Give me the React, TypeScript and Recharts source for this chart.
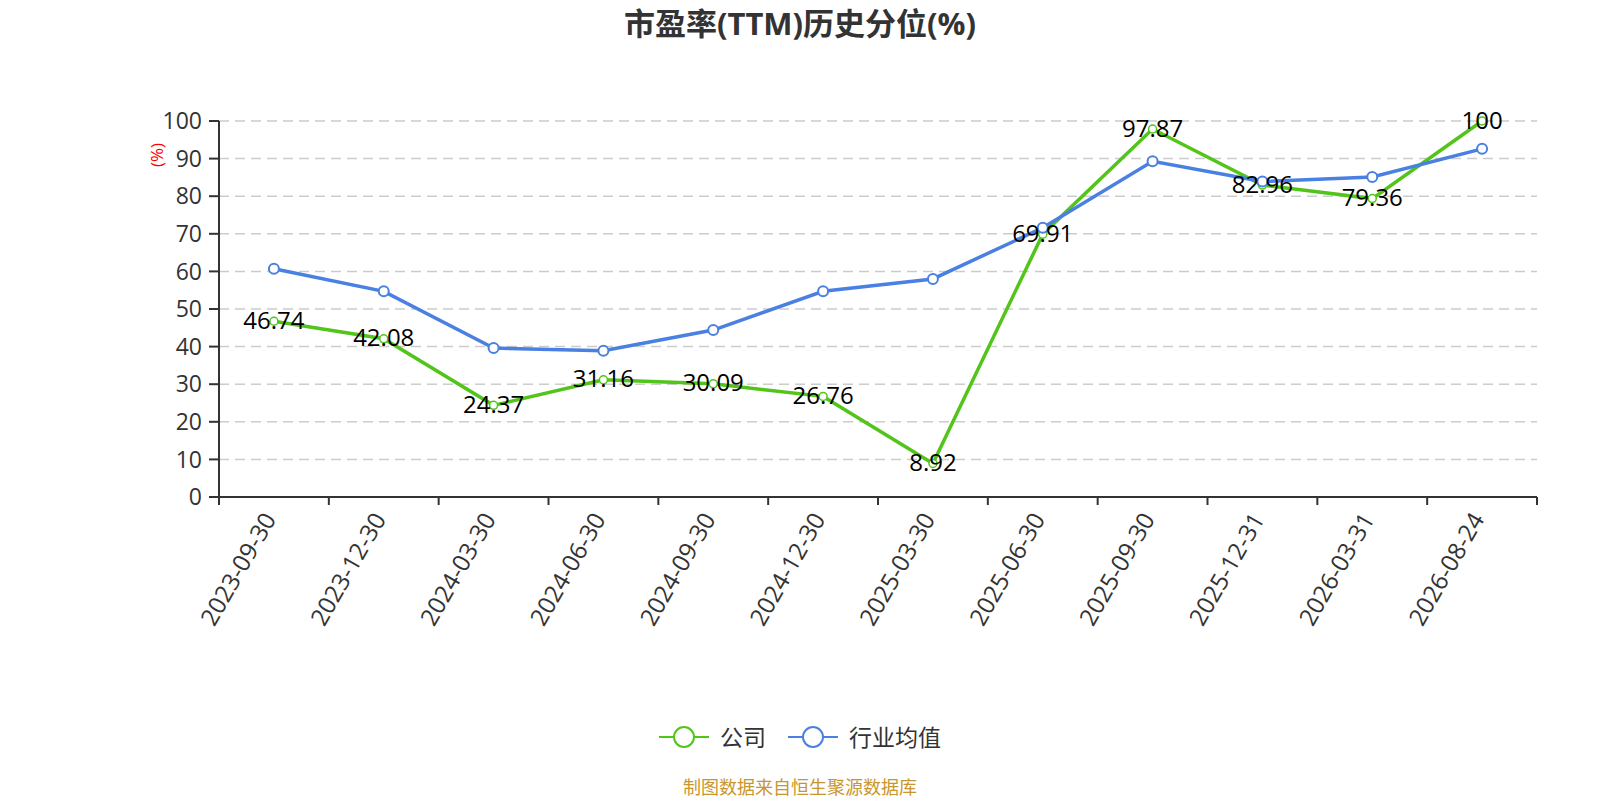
import { CartesianGrid, LabelList, Line, LineChart, XAxis, YAxis } from "recharts";

const dates = [
  "2023-09-30",
  "2023-12-30",
  "2024-03-30",
  "2024-06-30",
  "2024-09-30",
  "2024-12-30",
  "2025-03-30",
  "2025-06-30",
  "2025-09-30",
  "2025-12-31",
  "2026-03-31",
  "2026-08-24",
];
const companyValues = [46.74, 42.08, 24.37, 31.16, 30.09, 26.76, 8.92, 69.91, 97.87, 82.96, 79.36, 100];
const industryValues = [60.7, 54.7, 39.6, 38.9, 44.4, 54.7, 58.0, 71.6, 89.3, 83.9, 85.1, 92.6];
const yTicks = [0, 10, 20, 30, 40, 50, 60, 70, 80, 90, 100];

const chartData = dates.map((date, i) => ({
  date,
  company: companyValues[i],
  industry: industryValues[i],
}));

const GREEN = "#52c41a";
const BLUE = "#4a80e2";
const FONT = "'Open Sans', 'Noto Sans CJK SC', sans-serif";
const TICK_SIZE = 8;
const PLOT_LEFT = 219;
const PLOT_RIGHT = 1537;

function DateTick(props: any) {
  const { x, y, payload, index } = props;
  const step = (PLOT_RIGHT - PLOT_LEFT) / dates.length;
  const axisY = y - TICK_SIZE;
  const left = x - step / 2;
  const right = x + step / 2;
  return (
    <g>
      <line x1={left} y1={axisY} x2={left} y2={axisY + TICK_SIZE} stroke="#333" strokeWidth={2} />
      {index === dates.length - 1 && (
        <line x1={right} y1={axisY} x2={right} y2={axisY + TICK_SIZE} stroke="#333" strokeWidth={2} />
      )}
      <text
        x={x + 3}
        y={axisY + 22}
        textAnchor="end"
        fontSize={24}
        fill="#333"
        fontFamily={FONT}
        transform={`rotate(-60, ${x + 3}, ${axisY + 22})`}
      >
        {payload.value}
      </text>
    </g>
  );
}

function ValueLabel(props: any) {
  const { x, y, value } = props;
  return (
    <text x={x} y={y} dy={-2} textAnchor="middle" dominantBaseline="central" fontSize={24} fill="#000" fontFamily={FONT}>
      {value}
    </text>
  );
}

function LegendIcon({ color }: { color: string }) {
  return (
    <svg width={50} height={24} style={{ display: "block" }}>
      <line x1={0} y1={12} x2={50} y2={12} stroke={color} strokeWidth={2} />
      <circle cx={25} cy={12} r={10} fill="#fff" stroke={color} strokeWidth={2} />
    </svg>
  );
}

export default function App() {
  const pad = (PLOT_RIGHT - PLOT_LEFT) / dates.length / 2;
  return (
    <div
      style={{
        position: "absolute",
        left: 0,
        top: 0,
        width: 1600,
        height: 800,
        background: "#fff",
        fontFamily: FONT,
        overflow: "hidden",
      }}
    >
      <div
        style={{
          position: "absolute",
          top: 6,
          left: 0,
          width: 1600,
          textAlign: "center",
          fontSize: 31,
          fontWeight: "bold",
          color: "#333",
          lineHeight: "34px",
        }}
      >
        市盈率(TTM)历史分位(%)
      </div>

      <div
        style={{
          position: "absolute",
          left: 157,
          top: 155,
          transform: "translate(-50%, -50%) rotate(-90deg)",
          color: "red",
          fontSize: 17,
          lineHeight: "20px",
          whiteSpace: "nowrap",
        }}
      >
        (%)
      </div>

      <LineChart
        width={1600}
        height={800}
        data={chartData}
        margin={{ top: 121, right: 1600 - PLOT_RIGHT, bottom: 140, left: PLOT_LEFT - 60 }}
      >
        <CartesianGrid vertical={false} stroke="#ccc" strokeDasharray="10 6" strokeWidth={1.5} />
        <XAxis
          dataKey="date"
          interval={0}
          height={163}
          padding={{ left: pad, right: pad }}
          tickLine={false}
          tickSize={TICK_SIZE}
          tickMargin={0}
          axisLine={{ stroke: "#333", strokeWidth: 2 }}
          tick={<DateTick />}
        />
        <YAxis
          domain={[0, 100]}
          ticks={yTicks}
          width={60}
          tickSize={10}
          tickMargin={7}
          axisLine={{ stroke: "#333", strokeWidth: 2 }}
          tickLine={{ stroke: "#333", strokeWidth: 2 }}
          tick={{ fontSize: 23, fill: "#333", fontFamily: FONT }}
        />
        <Line
          type="linear"
          dataKey="company"
          stroke={GREEN}
          strokeWidth={3.5}
          dot={{ r: 4, fill: "#fff", stroke: GREEN, strokeWidth: 1.5 }}
          activeDot={false}
          isAnimationActive={false}
        />
        <Line
          type="linear"
          dataKey="industry"
          stroke={BLUE}
          strokeWidth={3.5}
          dot={{ r: 5, fill: "#fff", stroke: BLUE, strokeWidth: 2 }}
          activeDot={false}
          isAnimationActive={false}
        />
        <Line
          type="linear"
          dataKey="company"
          stroke="none"
          dot={false}
          activeDot={false}
          legendType="none"
          isAnimationActive={false}
        >
          <LabelList dataKey="company" content={<ValueLabel />} />
        </Line>
      </LineChart>

      <div
        style={{
          position: "absolute",
          top: 723,
          left: 0,
          width: 1600,
          display: "flex",
          justifyContent: "center",
          alignItems: "center",
          fontSize: 23,
          color: "#333",
          lineHeight: "28px",
        }}
      >
        <LegendIcon color={GREEN} />
        <span style={{ marginLeft: 11, marginRight: 22 }}>公司</span>
        <LegendIcon color={BLUE} />
        <span style={{ marginLeft: 11 }}>行业均值</span>
      </div>

      <div
        style={{
          position: "absolute",
          top: 776,
          left: 0,
          width: 1600,
          textAlign: "center",
          fontSize: 18,
          color: "#c8962e",
          lineHeight: "22px",
        }}
      >
        制图数据来自恒生聚源数据库
      </div>
    </div>
  );
}
